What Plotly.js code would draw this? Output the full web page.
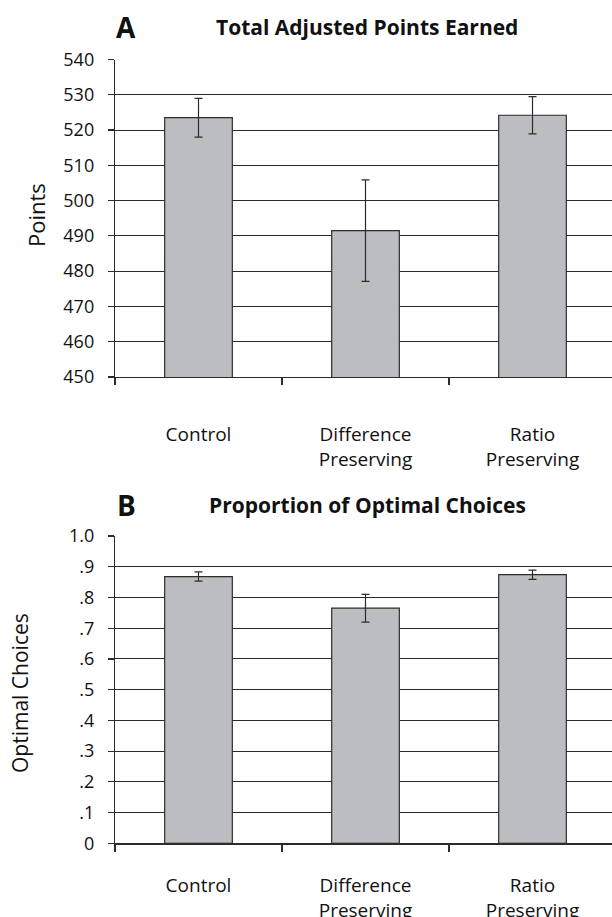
<!DOCTYPE html>
<html><head><meta charset="utf-8">
<script src="https://cdn.plot.ly/plotly-3.0.1.min.js"></script>
<style>html,body{margin:0;padding:0;overflow:hidden;background:#fff}</style>
</head><body><div id="chart"></div>
<script>
const categories = ["Control", "Difference<br>Preserving", "Ratio<br>Preserving"];
const pointsValues = [523.5, 491.5, 524.2];
const pointsErrors = [5.5, 14.4, 5.3];
const optimalValues = [0.868, 0.765, 0.874];
const optimalErrors = [0.015, 0.045, 0.015];
const pointsTicks = [450, 460, 470, 480, 490, 500, 510, 520, 530, 540];
const optimalTicks = [0, 0.1, 0.2, 0.3, 0.4, 0.5, 0.6, 0.7, 0.8, 0.9, 1.0];
const optimalTickText = ["0", ".1", ".2", ".3", ".4", ".5", ".6", ".7", ".8", ".9", "1.0"];

const FONT = "Open Sans, sans-serif";
const dark = "#2b2b2b";
const barStyle = {color: "#bcbdc0", line: {color: dark, width: 1.2}};
const errStyle = (arr) => ({type: "data", array: arr, visible: true, color: dark, thickness: 1.2, width: 4});

const traces = [
  {type: "bar", x: categories, y: pointsValues, xaxis: "x", yaxis: "y", width: 0.405,
   marker: barStyle, error_y: errStyle(pointsErrors), hoverinfo: "skip"},
  {type: "bar", x: categories, y: optimalValues, xaxis: "x2", yaxis: "y2", width: 0.405,
   marker: barStyle, error_y: errStyle(optimalErrors), hoverinfo: "skip"}
];

const xCommon = {
  type: "category", range: [-0.5, 2.476], domain: [115/612, 1],
  tickson: "boundaries", ticks: "outside", ticklen: 7, tickcolor: dark, tickwidth: 1.2,
  showline: true, linecolor: dark, linewidth: 1.2, showgrid: false,
  tickfont: {family: FONT, size: 19, color: "#111"}
};
const yCommon = {
  ticks: "outside", ticklen: 6, tickcolor: dark, tickwidth: 1.2,
  showline: true, linecolor: dark, linewidth: 1.2,
  showgrid: true, gridcolor: dark, gridwidth: 1, zeroline: false,
  tickfont: {family: FONT, size: 18, color: "#111"}, tickmode: "array", ticklabelstandoff: 10
};

const ann = (text, x, y, size, angle) => ({
  text: text, x: x / 612, y: 1 - y / 917, xref: "paper", yref: "paper",
  xanchor: "center", yanchor: "middle", showarrow: false, textangle: angle || 0,
  font: {family: FONT, size: size, color: "#111"}
});

const layout = {
  width: 612, height: 917, margin: {l: 0, r: 0, t: 0, b: 0},
  paper_bgcolor: "#fff", plot_bgcolor: "#fff", showlegend: false,
  xaxis: Object.assign({}, xCommon, {anchor: "y", ticklabelstandoff: 40}),
  xaxis2: Object.assign({}, xCommon, {anchor: "y2", ticklabelstandoff: 25}),
  yaxis: Object.assign({}, yCommon, {anchor: "x", domain: [1 - 377/917, 1 - 59.5/917], range: [450, 540],
    tickvals: pointsTicks, ticktext: pointsTicks.map(String)}),
  yaxis2: Object.assign({}, yCommon, {anchor: "x2", domain: [1 - 843.3/917, 1 - 536/917], range: [0, 1.0],
    tickvals: optimalTicks, ticktext: optimalTickText}),
  annotations: [
    ann("<b>A</b>", 126, 27, 28),
    ann("<b>Total Adjusted Points Earned</b>", 367, 27, 21),
    ann("<b>B</b>", 126, 505, 28),
    ann("<b>Proportion of Optimal Choices</b>", 367, 505, 21),
    ann("Points", 36, 215, 22, -90),
    ann("Optimal Choices", 20, 693, 21, -90)
  ]
};

Plotly.newPlot("chart", traces, layout, {displayModeBar: false, staticPlot: true});
</script></body></html>
